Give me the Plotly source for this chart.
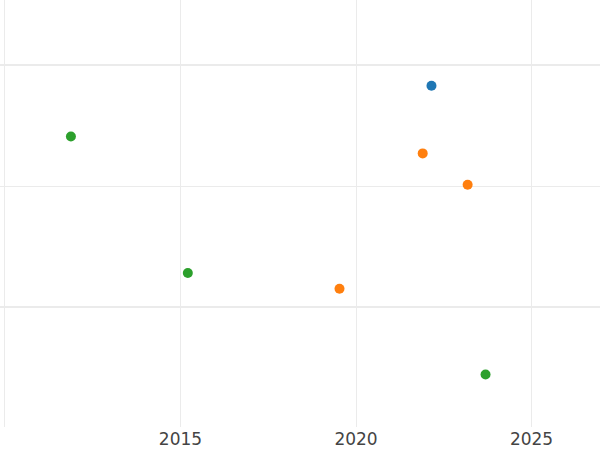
import plotly.graph_objects as go

# values
blue_x = [2022.15]
blue_y = [5.83]
orange_x = [2021.90, 2023.18, 2019.53]
orange_y = [5.27, 5.01, 4.15]
green_x = [2011.88, 2015.21, 2023.69]
green_y = [5.41, 4.28, 3.44]

series = [
    ("blue", blue_x, blue_y, "#1f77b4"),
    ("orange", orange_x, orange_y, "#ff7f0e"),
    ("green", green_x, green_y, "#2ca02c"),
]

fig = go.Figure()
for name, xs, ys, color in series:
    fig.add_trace(go.Scatter(
        x=xs, y=ys, mode="markers", name=name,
        marker=dict(color=color, size=10),
    ))

fig.update_layout(
    width=600, height=450,
    margin=dict(l=0, r=0, t=0, b=23),
    plot_bgcolor="white",
    paper_bgcolor="white",
    showlegend=False,
    font=dict(family="DejaVu Sans", size=17, color="#444"),
    xaxis=dict(
        range=[2009.86, 2026.95],
        dtick=5, tick0=2010,
        showgrid=True, gridcolor="#ebebeb", gridwidth=1,
        zeroline=False, showline=False, ticks="",
    ),
    yaxis=dict(
        range=[3.005, 6.54],
        dtick=2, tick0=0,
        showgrid=True, gridcolor="#ebebeb", gridwidth=2,
        minor=dict(dtick=1, showgrid=True, gridcolor="#ebebeb", gridwidth=1),
        zeroline=False, showline=False, ticks="",
        showticklabels=False,
    ),
)

# drop the browser's default 8px body margin so the figure sits at the corner
fig.write_html(
    "out.html",
    config={"displayModeBar": False},
    post_script="document.body.style.margin='0';",
)
